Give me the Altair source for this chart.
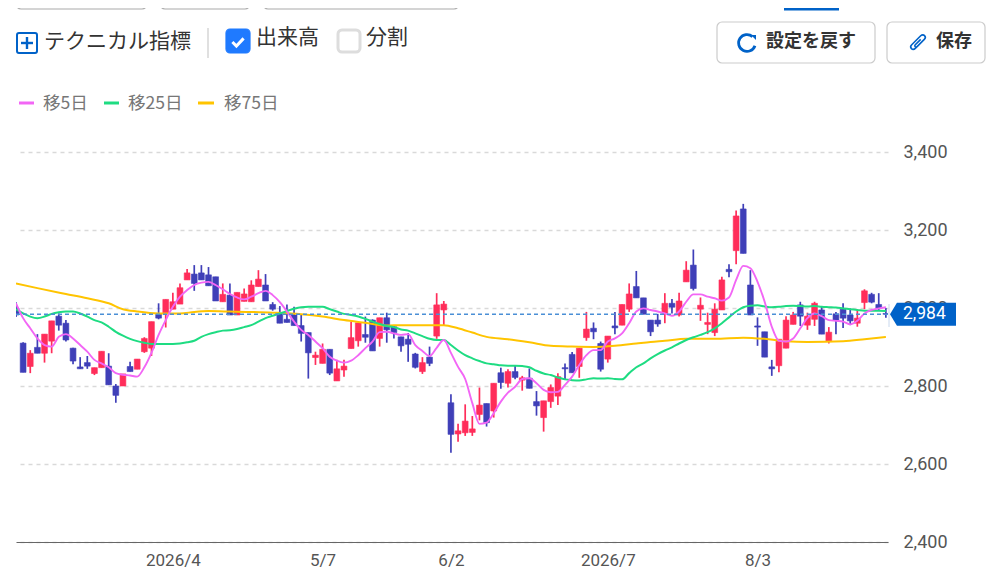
import altair as alt
import pandas as pd

# ---------- data ----------
opens = [3000,2910,2850,2899,2884,2915,2979,2961,2897,2849,2860,2832,2847,2851,2800,2800,2850,2843,2888,2897,
2984,2985,2997,3010,3072,3087,3090,3085,3080,3016,3033,2982,3017,3016,3055,3059,3009,2988,2971,2982,
2955,2937,2873,2858,2894,2813,2841,2896,2916,2932,2969,2922,2975,2952,2926,2920,2882,2837,2874,2928,
2995,2757,2677,2680,2681,2727,2755,2736,2834,2807,2837,2815,2820,2760,2719,2760,2774,2847,2881,2850,
2924,2948,2909,2869,2954,2956,2997,3055,3026,2969,2969,2986,3012,2982,3067,3110,2997,2958,2937,2995,
3099,3147,3254,3059,2954,2939,2849,2852,2897,2958,3008,2956,2971,2995,2914,2985,2997,2982,2961,3014,
3035,3009,2986]
highs = [3015,2912,2892,2933,2933,2967,2986,2969,2898,2874,2877,2847,2889,2884,2805,2831,2862,2869,2925,2965,
3012,3022,3039,3063,3100,3110,3110,3105,3080,3063,3063,3040,3050,3071,3097,3087,3015,3005,3009,3003,
2982,2937,2888,2909,2894,2867,2867,2965,2962,2978,2971,2975,2988,2955,2926,2936,2885,2874,2901,3038,
3018,2779,2703,2753,2723,2796,2755,2807,2847,2843,2851,2826,2845,2787,2762,2804,2833,2858,2887,2897,
2990,2963,2914,2928,2990,3009,3063,3095,3026,2969,2985,3038,3023,3039,3120,3150,3027,2988,3012,3080,
3112,3250,3267,3097,2976,2939,2867,2920,2979,2990,3016,2988,3016,3005,2951,2990,3012,2999,2997,3048,
3039,3038,3000]
lows = [2977,2835,2833,2884,2860,2884,2942,2914,2856,2844,2844,2828,2847,2803,2757,2800,2837,2843,2885,2877,
2971,2950,2997,3010,3072,3044,3072,3057,3018,3016,2982,2982,3017,3016,3055,3018,2993,2961,2963,2955,
2914,2819,2854,2858,2828,2813,2824,2896,2901,2911,2890,2901,2911,2922,2888,2862,2845,2831,2851,2921,
2956,2629,2657,2672,2672,2712,2696,2719,2793,2796,2817,2788,2794,2724,2683,2744,2751,2817,2834,2821,
2916,2920,2837,2860,2933,2956,2990,3026,2984,2928,2952,2961,2986,2978,3067,3045,2967,2933,2928,2995,
3079,3112,3140,2982,2903,2874,2826,2835,2897,2958,2954,2944,2954,2933,2909,2933,2949,2956,2952,2997,
3012,2993,2975]
closes = [2982,2835,2884,2884,2933,2967,2956,2918,2864,2844,2851,2847,2889,2803,2776,2831,2837,2869,2922,2965,
2974,3022,3016,3052,3090,3063,3072,3057,3018,3035,2982,3040,3036,3059,3074,3018,2997,2961,2963,2955,
2935,2885,2879,2894,2833,2844,2851,2924,2962,2925,2890,2975,2944,2937,2903,2907,2848,2860,2858,3008,
3010,2676,2685,2710,2690,2751,2706,2807,2809,2837,2822,2821,2794,2749,2762,2796,2824,2844,2834,2897,
2946,2939,2843,2928,2949,3009,3036,3026,2984,2939,2959,3012,3002,3018,3097,3050,3007,2963,2997,3072,
3093,3236,3140,2982,2951,2874,2844,2920,2969,2982,2979,2979,3012,2933,2938,2969,2974,2967,2974,3044,
3015,2999,2984]
ma5 = [3012,2974,2948,2922,2905,2901,2926,2933,2922,2905,2888,2867,2858,2848,2833,2829,2827,2824,2848,2885,
2931,2969,3003,3029,3046,3059,3065,3067,3059,3048,3036,3027,3022,3029,3038,3044,3033,3015,2991,2965,
2944,2931,2914,2897,2875,2865,2860,2865,2879,2897,2914,2938,2939,2935,2931,2933,2905,2890,2877,2898,
2918,2885,2849,2818,2756,2703,2706,2730,2760,2783,2798,2818,2820,2807,2790,2784,2785,2803,2824,2854,
2879,2892,2892,2914,2922,2935,2961,2991,2999,2995,2991,2986,2980,2991,3016,3035,3035,3029,3025,3019,
3027,3072,3108,3102,3067,3016,2952,2916,2914,2922,2948,2974,2986,2979,2969,2967,2965,2958,2967,2986,
2995,2999,3002]
ma25 = [2997,2986,2978,2974,2978,2985,2989,2991,2991,2986,2978,2969,2963,2952,2939,2929,2921,2915,2911,2908,
2908,2908,2908,2909,2912,2916,2926,2933,2938,2942,2943,2946,2951,2956,2965,2974,2980,2986,2992,2998,
3002,3003,3003,3003,2997,2991,2985,2982,2978,2972,2965,2959,2954,2951,2945,2942,2935,2928,2921,2918,
2918,2905,2891,2879,2871,2864,2858,2856,2853,2852,2852,2851,2848,2839,2832,2828,2822,2817,2815,2814,
2817,2820,2819,2820,2818,2817,2833,2848,2858,2871,2882,2891,2899,2909,2918,2925,2931,2938,2948,2961,
2976,2991,3002,3006,3007,3004,3002,3003,3005,3006,3005,3004,3005,3003,3002,3001,2999,2997,2995,2993,
2993,2993,2992]
ma75_idx = [0,3,7,10,13,15,17,20,23,25,27,30,36,40,43,46,49,52,54,57,60,62,64,66,69,72,75,78,81,84,87,89,91,94,98,102,105,108,111,116,119,122]
ma75 = [3063,3051,3036,3025,3012,2997,2991,2986,2986,2990,2992,2991,2988,2984,2978,2969,2962,2955,2956,2956,2956,2948,2937,2926,2920,2912,2903,2901,2900,2903,2909,2913,2916,2921,2921,2924,2921,2915,2913,2915,2920,2926]
y_ticks = [2400,2600,2800,3000,3200,3400]
x_tick_pos = [22,43,61,83,104]
x_tick_labels = ["2026/4","5/7","6/2","2026/7","8/3"]
last_price = 2984
last_price_label = "2,984"
legend_items = ["移5日","移25日","移75日"]
ui_texts = ["テクニカル指標","出来高","分割","設定を戻す","保存"]

# ---------- styles ----------
RED, BLUE = "#ff2d5a", "#3f3fb8"
PINK, GREEN, GOLD = "#f266f5", "#1edc82", "#ffc400"
TAGBLUE = "#0062c8"
CJK = "Noto Sans CJK JP"
LATIN = "Roboto"
ONE = alt.Data(values=[{"k": 0}])
def X(px): return alt.value(px - 16)
def Y(py): return alt.value(py - 152)

candles = pd.DataFrame({"i": range(len(opens)), "o": opens, "h": highs, "l": lows, "c": closes})
candles["dir"] = ["up" if c >= o else "down" for o, c in zip(opens, closes)]
color = alt.Color("dir:N", scale=alt.Scale(domain=["up","down"], range=[RED, BLUE]), legend=None)

labelExpr = "%s[indexof(%s, datum.value)]" % (x_tick_labels, x_tick_pos)
xs = alt.Scale(domain=[0, 122.3], nice=False, zero=False, padding=0)
ys = alt.Scale(domain=[2400, 3400], nice=False, zero=False)
xenc = alt.X("i:Q", scale=xs, axis=alt.Axis(values=x_tick_pos, labelExpr=labelExpr, title=None, grid=False, ticks=False,
        domainColor="#666", domainWidth=1.2, labelFont=LATIN, labelFontSize=17, labelColor="#555", labelPadding=10, labelOverlap=False, labelFlush=False))
yenc = alt.Y("l:Q", scale=ys, axis=alt.Axis(orient="right", values=y_ticks, format=",d", title=None, grid=True, gridColor="#d9d9d9",
        gridDash=[4,4], gridWidth=1.3, ticks=False, domain=False, labelFont=LATIN, labelFontSize=18, labelColor="#555", labelPadding=15))

wicks = alt.Chart(candles).mark_rule(strokeWidth=1.7, clip=True).encode(x=xenc, y=yenc, y2="h:Q", color=color)
bodies = alt.Chart(candles).mark_bar(size=5.8, clip=True, strokeWidth=0.6).encode(
    x=alt.X("i:Q", scale=xs), y=alt.Y("o:Q", scale=ys), y2="c:Q", color=color, stroke=alt.Color("dir:N", scale=alt.Scale(domain=["up","down"], range=[RED, BLUE]), legend=None))

def line(idx, vals, col, w):
    d = pd.DataFrame({"i": idx, "v": vals})
    return alt.Chart(d).mark_line(color=col, strokeWidth=w, clip=True, interpolate="monotone").encode(
        x=alt.X("i:Q", scale=xs), y=alt.Y("v:Q", scale=ys))

l75 = line(ma75_idx, ma75, GOLD, 2)
l25 = line(list(range(len(ma25))), ma25, GREEN, 2)
l5 = line(list(range(len(ma5))), ma5, PINK, 1.9)

price_line = alt.Chart(ONE).mark_rule(color="#4a8fd6", strokeWidth=1.5, strokeDash=[4,3]).encode(
    x=X(16), x2=X(888), y=alt.Y("p:Q", scale=ys)).transform_calculate(p=str(last_price))

def text(s, px, py, size, col="#333", bold=False, font=CJK):
    return alt.Chart(ONE).mark_text(text=s, align="left", baseline="middle", font=font, fontSize=size, color=col,
                                    fontWeight="bold" if bold else "normal").encode(x=X(px), y=Y(py))
def box(x0, y0, x1, y1, stroke, fill="white", r=5, w=1.2):
    return alt.Chart(ONE).mark_rect(fill=fill, stroke=stroke, strokeWidth=w, cornerRadius=r).encode(x=X(x0), x2=X(x1), y=Y(y0), y2=Y(y1))
def hrule(x0, x1, py, col, w):
    return alt.Chart(ONE).mark_rule(color=col, strokeWidth=w).encode(x=X(x0), x2=X(x1), y=Y(py))
def vrule(px, y0, y1, col, w):
    return alt.Chart(ONE).mark_rule(color=col, strokeWidth=w).encode(x=X(px), y=Y(y0), y2=Y(y1))
def shape(path, px, py, size, stroke=None, fill=None, w=2):
    kw = dict(shape=path, size=size, opacity=1, strokeWidth=w)
    if fill:
        kw.update(filled=True, fill=fill)
    else:
        kw.update(filled=False, stroke=stroke, fill="transparent")
    return alt.Chart(ONE).mark_point(**kw).encode(x=X(px), y=Y(py))

ui = [
    box(16, -10, 147, 9, "#aaa"), box(160, -10, 250, 9, "#aaa"), box(263, -10, 459, 9, "#aaa"),
    hrule(784, 839, 9, TAGBLUE, 3),
    # technical indicator control
    box(17, 33, 37, 53, TAGBLUE, r=2, w=2),
    hrule(21, 33, 43, TAGBLUE, 2.4), vrule(27, 37, 49, TAGBLUE, 2.4),
    text(ui_texts[0], 44, 42, 21),
    vrule(208, 28, 58, "#ccc", 1.2),
    box(226, 29, 250, 53, "#1f7aff", fill="#1f7aff", r=4),
    shape("M-0.7,0 L-0.2,0.5 L0.7,-0.45", 238, 42, 256, stroke="white", w=3),
    text(ui_texts[1], 256, 38, 21),
    box(338, 30, 360, 52, "#ddd", r=4, w=3),
    text(ui_texts[2], 366, 38, 21),
    # buttons
    box(717, 22, 875, 63, "#ccc"),
    alt.Chart(ONE).mark_arc(innerRadius=7, outerRadius=9.8, theta=1.9, theta2=7.0, color=TAGBLUE).encode(x=X(747), y=Y(43)),
    shape("M0,-1 L1,-1 L1,0 Z", 751, 40, 100, fill=TAGBLUE),
    text(ui_texts[3], 766, 42, 18, bold=True),
    box(887, 22, 985, 63, "#ccc"),
    shape("M0.6,-0.3 L-0.3,0.6 C-0.6,0.9 -1,0.5 -0.7,0.2 L0.3,-0.8 C0.6,-1.1 1,-0.7 0.7,-0.4 L-0.1,0.4 C-0.25,0.55 -0.45,0.35 -0.3,0.2 L0.3,-0.4",
          918, 43, 324, stroke=TAGBLUE, w=1.6),
    text(ui_texts[4], 936, 42, 18, bold=True),
    # legend
    hrule(19, 34, 103, PINK, 3), text(legend_items[0], 43, 104, 17.6, "#777"),
    hrule(104, 119, 103, GREEN, 3), text(legend_items[1], 128, 104, 17.6, "#777"),
    hrule(198, 214, 103, GOLD, 3), text(legend_items[2], 224, 104, 17.6, "#777"),
]

tag_path = "M-1,0 L-0.79,-0.35 L1,-0.35 L1,0.35 L-0.79,0.35 Z"
tag = alt.Chart(ONE).mark_point(shape=tag_path, size=4356, filled=True, fill=TAGBLUE, opacity=1).encode(
    x=X(923), y=alt.Y("p:Q", scale=ys)).transform_calculate(p=str(last_price))
tag_text = alt.Chart(ONE).mark_text(text=last_price_label, align="left", baseline="middle", font=LATIN, fontSize=17.5, color="white").encode(
    x=X(903), y=alt.Y("p:Q", scale=ys)).transform_calculate(p=str(last_price))
tag_edge = vrule(889, 304, 327, "#c8d8ee", 1)

chart = alt.layer(wicks, bodies, l75, l25, l5, price_line, tag_edge, tag, tag_text, *ui).resolve_scale(
    x="shared", y="shared", color="independent"
).properties(
    width=872, height=390,
    padding={"left": 8, "top": 144, "right": 98, "bottom": 34},
    autosize=alt.AutoSizeParams(type="none"),
    background="white",
).configure_view(stroke=None)

chart.save("out.html", embed_options={"renderer": "svg", "actions": False})
